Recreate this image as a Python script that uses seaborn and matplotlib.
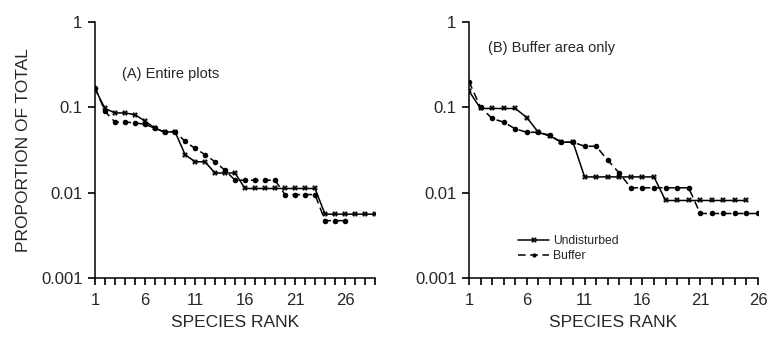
import numpy as np
import pandas as pd
import matplotlib
matplotlib.use("Agg")
import matplotlib.pyplot as plt
import seaborn as sns
from matplotlib.ticker import FixedLocator, NullLocator, FixedFormatter
from matplotlib.lines import Line2D

# ---- data ----
a_undisturbed = [0.165, 0.097, 0.086, 0.086, 0.082, 0.069, 0.057, 0.051, 0.052, 0.028,
                 0.023, 0.023, 0.017, 0.017, 0.017, 0.0112, 0.0112, 0.0112, 0.0112, 0.0112,
                 0.0112, 0.0112, 0.0112, 0.0056, 0.0056, 0.0056, 0.0056, 0.0056, 0.0056]
a_buffer = [0.17, 0.09, 0.067, 0.067, 0.066, 0.063, 0.057, 0.051, 0.052, 0.040,
            0.033, 0.028, 0.023, 0.0183, 0.014, 0.014, 0.014, 0.014, 0.014, 0.0095,
            0.0095, 0.0095, 0.0095, 0.0047, 0.0047, 0.0047]
b_undisturbed = [0.155, 0.097, 0.097, 0.097, 0.097, 0.076, 0.051, 0.046, 0.039, 0.039,
                 0.0153, 0.0153, 0.0153, 0.0153, 0.0153, 0.0153, 0.0153, 0.0081, 0.0081, 0.0081,
                 0.0081, 0.0081, 0.0081, 0.0081, 0.0081]
b_buffer = [0.20, 0.10, 0.074, 0.067, 0.056, 0.051, 0.051, 0.047, 0.039, 0.039,
            0.035, 0.035, 0.024, 0.017, 0.0114, 0.0114, 0.0114, 0.0114, 0.0114, 0.0114,
            0.0057, 0.0057, 0.0057, 0.0057, 0.0057, 0.0057]

panel_titles = ["(A) Entire plots", "(B) Buffer area only"]
series_labels = ["Undisturbed", "Buffer"]
x_major_ticks = [1, 6, 11, 16, 21, 26]
y_ticks = [0.001, 0.01, 0.1, 1]
y_ticklabels = ["0.001", "0.01", "0.1", "1"]

sns.set_style("ticks")
plt.rcParams['font.family'] = ['Liberation Sans', 'DejaVu Sans']

fig = plt.figure(figsize=(7.7, 3.38), dpi=100)
axA = fig.add_axes([95/770, 60/338, 280/770, 256/338])
axB = fig.add_axes([469/770, 60/338, 289/770, 256/338])

LW = 1.1
DASH = (5, 3)

def make_df(und, buf):
    return pd.concat([
        pd.DataFrame({"rank": np.arange(1, len(und) + 1), "p": und,
                      "series": series_labels[0]}),
        pd.DataFrame({"rank": np.arange(1, len(buf) + 1), "p": buf,
                      "series": series_labels[1]}),
    ], ignore_index=True)

def format_axes(ax, xmax):
    all_ticks = list(range(1, xmax + 1))
    ax.set_yscale("log")
    ax.set_ylim(0.001, 1)
    ax.set_xlim(1, xmax)
    ax.yaxis.set_major_locator(FixedLocator(y_ticks))
    ax.yaxis.set_major_formatter(FixedFormatter(y_ticklabels))
    ax.yaxis.set_minor_locator(NullLocator())
    ax.xaxis.set_major_locator(FixedLocator(all_ticks))
    ax.xaxis.set_major_formatter(FixedFormatter(
        [str(t) if t in x_major_ticks else "" for t in all_ticks]))
    ax.xaxis.set_minor_locator(NullLocator())
    ax.tick_params(axis="x", which="major", labelsize=12, length=5,
                   width=1.2, color="black", direction="out", pad=6, bottom=True)
    ax.tick_params(axis="y", which="major", labelsize=12, length=5,
                   width=1.2, color="black", direction="out", pad=4, left=True)
    for s in ["top", "right"]:
        ax.spines[s].set_visible(False)
    for s in ["left", "bottom"]:
        ax.spines[s].set_color("black")
        ax.spines[s].set_linewidth(1.1)

def draw(ax, und, buf, xmax):
    format_axes(ax, xmax)
    df = make_df(und, buf)
    sns.lineplot(data=df, x="rank", y="p", style="series",
                 dashes={series_labels[0]: "", series_labels[1]: DASH},
                 markers={series_labels[0]: "X", series_labels[1]: "o"},
                 markersize=4, markeredgewidth=0, color="black", lw=LW,
                 ax=ax, legend=False)
    ax.set_xlabel("SPECIES RANK", fontsize=12.5, labelpad=5)
    ax.set_ylabel("")
    format_axes(ax, xmax)

draw(axA, a_undisturbed, a_buffer, 29)
draw(axB, b_undisturbed, b_buffer, 26)

axA.set_ylabel("PROPORTION OF TOTAL", fontsize=12.5, labelpad=7)

axA.text(0.095, 0.795, panel_titles[0], transform=axA.transAxes,
         fontsize=10.5, ha="left", va="center")
axB.text(0.065, 0.9, panel_titles[1], transform=axB.transAxes,
         fontsize=10.5, ha="left", va="center")

handles = [
    Line2D([], [], color="black", lw=LW, marker="X", markersize=4,
           markeredgewidth=0),
    Line2D([], [], color="black", lw=LW, linestyle=(0, DASH), marker="o",
           markersize=3, markeredgewidth=0),
]
axB.legend(handles, series_labels, loc="lower left", bbox_to_anchor=(0.14, 0.03),
           frameon=False, fontsize=8.7, handlelength=2.6, handletextpad=0.3,
           labelspacing=0.25, borderpad=0.2)

fig.savefig("out.png", dpi=100)
